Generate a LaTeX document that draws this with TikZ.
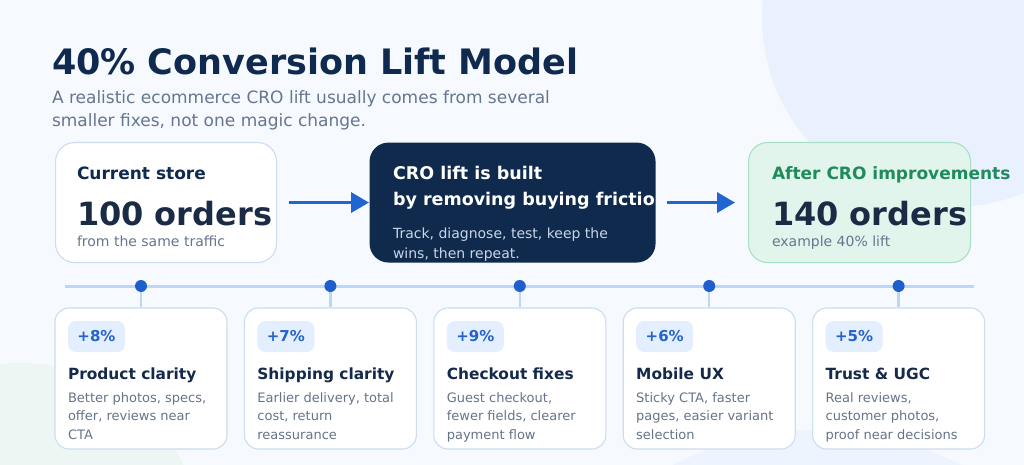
\documentclass[tikz,border=0pt]{standalone}
\usepackage{fontspec}
\setmainfont{DejaVu Sans}
\usetikzlibrary{arrows.meta}
\definecolor{bg}{HTML}{F6F9FE}
\definecolor{bigcirc}{HTML}{E8F1FD}
\definecolor{greencirc}{HTML}{EDF6F2}
\definecolor{bluecirc}{HTML}{EEF4FD}
\definecolor{navy}{HTML}{0F2A4E}
\definecolor{subgray}{HTML}{66768E}
\definecolor{boxborder}{HTML}{CCDCF1}
\definecolor{bignum}{HTML}{1B2B45}
\definecolor{darkfill}{HTML}{0F2A4C}
\definecolor{darksub}{HTML}{C9D5E8}
\definecolor{arrowblue}{HTML}{1F66D1}
\definecolor{greenfill}{HTML}{E2F5EC}
\definecolor{greenborder}{HTML}{A9E0C5}
\definecolor{greentxt}{HTML}{1F8A5B}
\definecolor{tlblue}{HTML}{BCD6FA}
\definecolor{dotblue}{HTML}{1F5FCC}
\definecolor{badgefill}{HTML}{E3EEFE}
\definecolor{badgetxt}{HTML}{2563C8}
\definecolor{cardtitle}{HTML}{15294B}
\definecolor{descgray}{HTML}{66748A}
\newcommand{\myfs}[1]{\fontsize{#1}{#1}\selectfont}
\newcommand{\mycard}[7]{%
  \pgfmathsetmacro{\tx}{#2-73}\pgfmathsetmacro{\bx}{#2-44.5}%
  \node[card] (#1) at (#2,378.5) {};
  \coordinate (#1c) at (#2,286);
  \draw[stem] (#1c) -- (#1.north);
  \node[dotnode] (#1d) at (#1c) {};
  \node[badge] (#1b) at (\bx,336.5) {};
  \node[txt, anchor=base, text=badgetxt, font=\myfs{15}\bfseries] (#1p) at (\bx,341.5) {#3};
  \node[txt, text=cardtitle, font=\myfs{15.4}\bfseries] (#1t) at (\tx,379.5) {#4};
  \node[txt, desc] (#1a) at (\tx,402) {#5};
  \node[txt, desc] (#1e) at (\tx,420.5) {#6};
  \node[txt, desc] (#1f) at (\tx,439) {#7};
}
\begin{document}
\begin{tikzpicture}[x=1pt,y=-1pt,
  txt/.style={inner sep=0pt, outer sep=0pt, anchor=base west},
  desc/.style={text=descgray, font=\myfs{13}},
  topbox/.style={rounded corners=19pt, line width=1.1pt, minimum width=221pt, minimum height=120pt, anchor=north west, inner sep=0pt},
  card/.style={draw=boxborder, fill=white, rounded corners=14pt, line width=1.1pt, minimum width=172pt, minimum height=141pt, inner sep=0pt},
  badge/.style={fill=badgefill, rounded corners=8pt, minimum width=57pt, minimum height=31pt, inner sep=0pt},
  dotnode/.style={circle, fill=dotblue, minimum size=12pt, inner sep=0pt},
  stem/.style={draw=tlblue, line width=2.5pt},
  arr/.style={draw=arrowblue, line width=3.5pt, -{Triangle[length=18pt,width=20pt]}}
]
\useasboundingbox (0,0) rectangle (1024,465);
\fill[bg] (0,0) rectangle (1024,465);
\begin{scope}
  \clip (0,0) rectangle (1024,465);
  \fill[bigcirc] (952,17) circle[radius=190pt];
  \fill[greencirc] (20,545) circle[radius=182pt];
  \fill[bluecirc] (817,744) circle[radius=314pt];
\end{scope}

% title
\node[txt, text=navy, font=\myfs{35}\bfseries] (title) at (52,75) {40\% Conversion Lift Model};
\node[txt, text=subgray, font=\myfs{17}] (sub1) at (52,104) {A realistic ecommerce CRO lift usually comes from several};
\node[txt, text=subgray, font=\myfs{17}] (sub2) at (52,127) {smaller fixes, not one magic change.};

% top boxes
\node[topbox, draw=boxborder, fill=white] (cur) at (55,142) {};
\node[txt, text=navy, font=\myfs{17}\bfseries] (curt) at (77,179) {Current store};
\node[txt, text=bignum, font=\myfs{32}\bfseries] (curn) at (77,225) {100 orders};
\node[txt, text=subgray, font=\myfs{14}] (curs) at (77,246) {from the same traffic};

\node[topbox, fill=darkfill, minimum width=286pt] (dark) at (369,142) {};
\begin{scope}
  \clip[rounded corners=19pt] (369,142) rectangle (655,262);
  \node[txt, text=white, font=\myfs{17.5}\bfseries] (dk1) at (393,179) {CRO lift is built};
  \node[txt, text=white, font=\myfs{17.5}\bfseries] (dk2) at (393,205) {by removing buying friction};
  \node[txt, text=darksub, font=\myfs{14}] (dk3) at (393,238) {Track, diagnose, test, keep the};
  \node[txt, text=darksub, font=\myfs{14}] (dk4) at (393,258) {wins, then repeat.};
\end{scope}

\node[topbox, draw=greenborder, fill=greenfill, minimum width=222pt] (after) at (748,142) {};
\node[txt, text=greentxt, font=\myfs{17}\bfseries] (aftt) at (772,179) {After CRO improvements};
\node[txt, text=bignum, font=\myfs{32}\bfseries] (aftn) at (772,225) {140 orders};
\node[txt, text=subgray, font=\myfs{14}] (afts) at (772,246) {example 40\% lift};

\draw[arr, shorten <=12pt] (cur.east) -- (dark.west);
\draw[arr, shorten <=11pt, shorten >=13pt] (dark.east) -- (after.west);

% timeline
\coordinate (tl) at (65,286);
\coordinate (tr) at (974,286);
\draw[tlblue, line width=3pt] (tl) -- (tr);

\mycard{c1}{141}{+8\%}{Product clarity}{Better photos, specs,}{offer, reviews near}{CTA}
\mycard{c2}{330.4}{+7\%}{Shipping clarity}{Earlier delivery, total}{cost, return}{reassurance}
\mycard{c3}{519.8}{+9\%}{Checkout fixes}{Guest checkout,}{fewer fields, clearer}{payment flow}
\mycard{c4}{709.2}{+6\%}{Mobile UX}{Sticky CTA, faster}{pages, easier variant}{selection}
\mycard{c5}{898.6}{+5\%}{Trust \& UGC}{Real reviews,}{customer photos,}{proof near decisions}
\end{tikzpicture}
\end{document}
